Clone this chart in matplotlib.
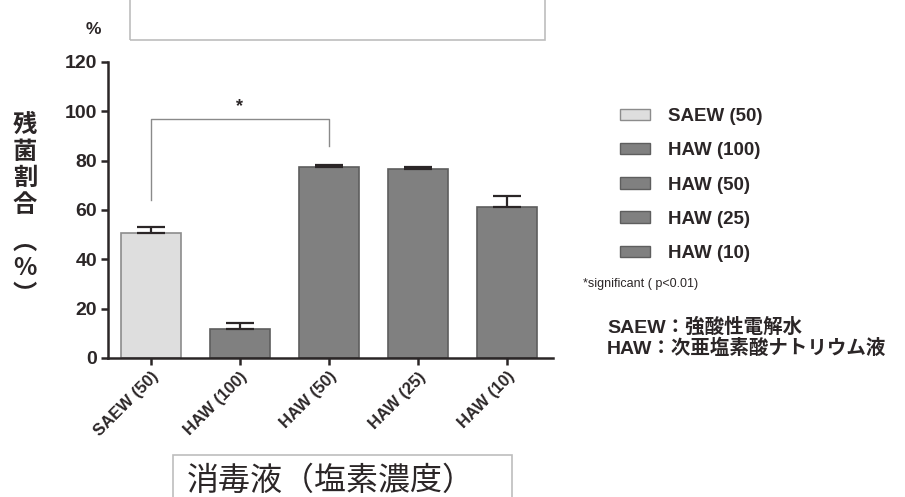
import matplotlib.pyplot as plt
from matplotlib.patches import Rectangle, Patch

plt.rcParams['font.family'] = ['Liberation Sans', 'Noto Sans CJK JP', 'DejaVu Sans']

# 消毒液ごとの残菌割合 (%) と標準誤差
labels = ['SAEW (50)', 'HAW (100)', 'HAW (50)', 'HAW (25)', 'HAW (10)']
values = [50.7, 11.8, 77.6, 76.7, 61.2]
errors = [2.5, 2.4, 0.6, 0.6, 4.4]
fills = ['#dedede', '#808080', '#808080', '#808080', '#808080']
edges = ['#8c8c8c', '#5e5e5e', '#5e5e5e', '#5e5e5e', '#5e5e5e']
yticks = [0, 20, 40, 60, 80, 100, 120]

ink = '#2b2627'

fig = plt.figure(figsize=(9.05, 4.97), dpi=100)
ax = fig.add_axes([108 / 905, 139 / 497, 445 / 905, 296 / 497])

x = list(range(len(labels)))
ax.bar(x, values, width=0.67, color=fills, edgecolor=edges, linewidth=1.2, zorder=2)
ax.errorbar(x, values, yerr=[[0] * len(errors), errors], fmt='none',
            ecolor=ink, elinewidth=1.6, capsize=10, capthick=1.6, zorder=3)

ax.set_xlim(-0.483, 4.517)
ax.set_ylim(0, 120)
ax.set_yticks(yticks)
ax.set_xticks(x)
ax.set_xticklabels(labels, rotation=45, ha='right', rotation_mode='anchor',
                   fontsize=12, fontweight='bold', color=ink)
for t in ax.get_yticklabels():
    t.set_fontsize(14)
    t.set_fontweight('bold')
    t.set_color(ink)
for s in ['top', 'right']:
    ax.spines[s].set_visible(False)
for s in ['left', 'bottom']:
    ax.spines[s].set_linewidth(1.8)
    ax.spines[s].set_color(ink)
ax.tick_params(axis='both', length=5, width=1.8, color=ink, pad=3)

# 有意差のブラケット
ax.plot([0, 0, 2, 2], [64, 97, 97, 86], color='#8a8a8a', lw=1.0, zorder=1)
ax.text(1, 102, '*', ha='center', va='center', fontsize=13, fontweight='bold', color=ink)

# 縦書きの軸ラベル
ylab = ['残', '菌', '割', '合', '︵', '%', '︶']
ypos = [125, 152, 178, 205, 242, 268, 295]
for ch, yp in zip(ylab, ypos):
    fig.text(25 / 905, 1 - yp / 497, ch, ha='center', va='center', fontsize=17.5,
             fontweight='bold', color=ink, family=['Noto Sans CJK JP', 'DejaVu Sans'])

# 上部の枠と単位
fig.patches.append(Rectangle((130 / 905, 1 - 40 / 497), 415 / 905, 0.2,
                             transform=fig.transFigure, fill=False,
                             edgecolor='#bdbdbd', lw=1.2))
fig.text(93 / 905, 1 - 29 / 497, '%', ha='center', va='center', fontsize=12.5,
         fontweight='bold', color=ink)

# 下部の枠と x 軸タイトル
fig.patches.append(Rectangle((173 / 905, -0.05), 339 / 905, 0.05 + 42 / 497,
                             transform=fig.transFigure, fill=False,
                             edgecolor='#bdbdbd', lw=1.2))
fig.text(187 / 905, 1 - 481 / 497, '消毒液（塩素濃度）', ha='left', va='center',
         fontsize=23, color=ink, family=['Noto Sans CJK JP', 'DejaVu Sans'])

# 凡例
handles = [Patch(facecolor=f, edgecolor=e, linewidth=1.0) for f, e in zip(fills, edges)]
leg = fig.legend(handles, labels, loc='upper left', bbox_to_anchor=(620 / 905, 1 - 108 / 497),
                 frameon=False, borderpad=0, borderaxespad=0,
                 handlelength=1.6, handleheight=0.55, handletextpad=0.95,
                 labelspacing=0.92, prop={'size': 13.5, 'weight': 'bold'})
for t in leg.get_texts():
    t.set_color(ink)

fig.text(583 / 905, 1 - 284 / 497, '*significant ( p<0.01)', ha='left', va='center',
         fontsize=9, color=ink)
fig.text(607 / 905, 1 - 327 / 497, 'SAEW：強酸性電解水', ha='left', va='center',
         fontsize=14, color=ink, fontweight='bold',
         family=['Liberation Sans', 'Noto Sans CJK JP'])
fig.text(607 / 905, 1 - 348 / 497, 'HAW：次亜塩素酸ナトリウム液', ha='left', va='center',
         fontsize=14, color=ink, fontweight='bold',
         family=['Liberation Sans', 'Noto Sans CJK JP'])

fig.savefig('out.png', dpi=100)
